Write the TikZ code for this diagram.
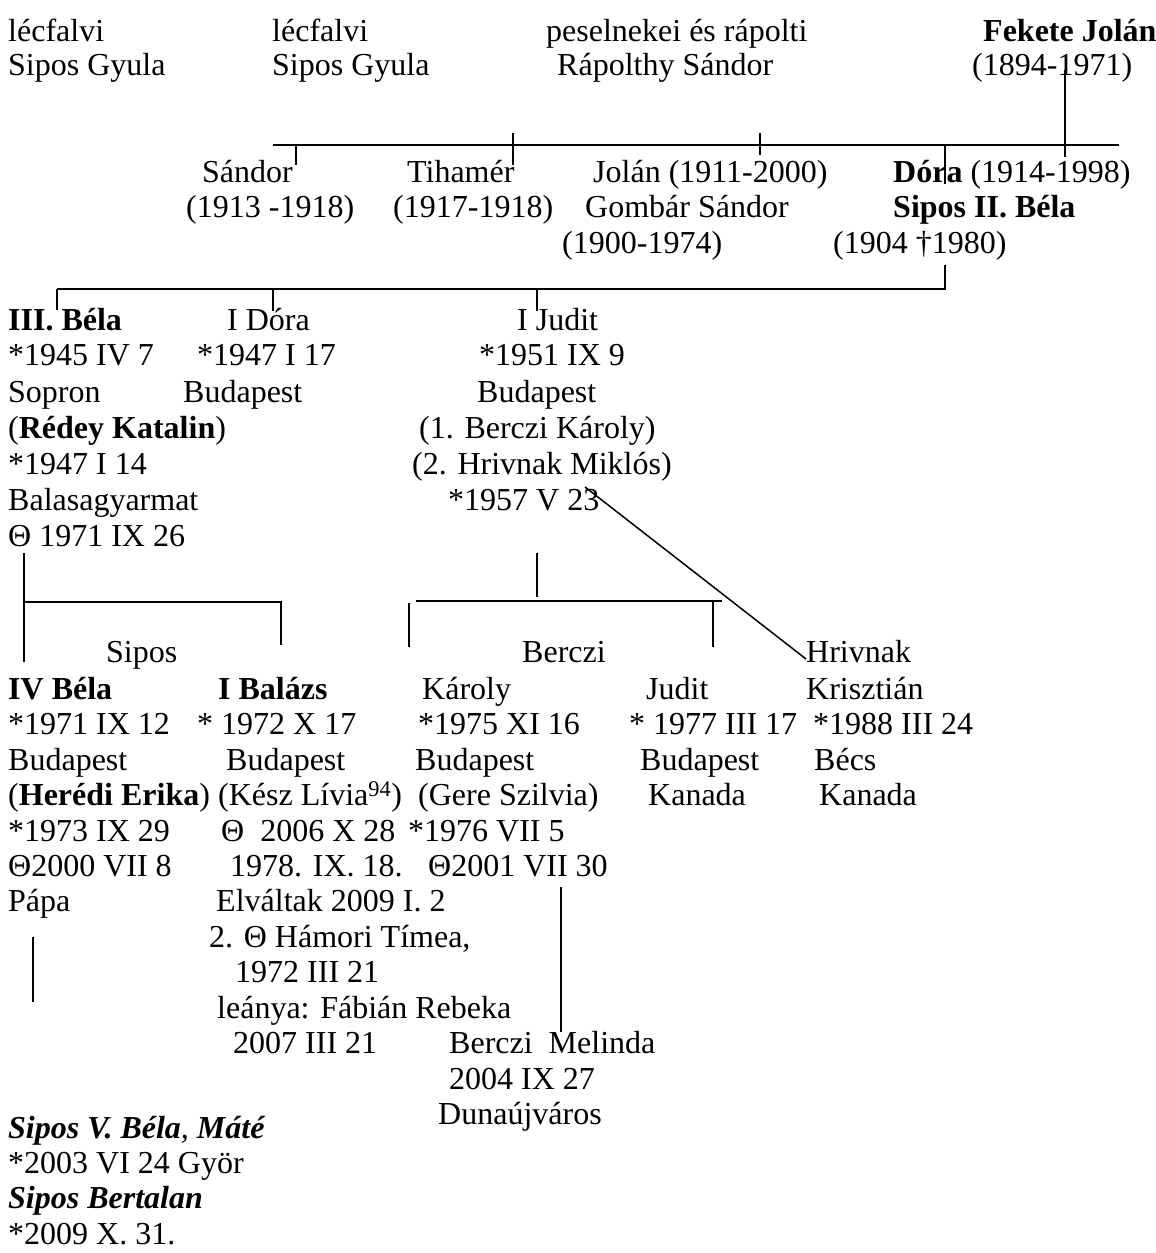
\documentclass[tikz,border=0pt]{standalone}
\usepackage{fontspec}
\setmainfont{Liberation Serif}
\begin{document}
\begin{tikzpicture}[x=1pt,y=-1pt,
  txt/.style={anchor=mid west,inner sep=0pt,yshift=-8pt,font=\fontsize{32}{36}\selectfont},
  ln/.style={line width=2pt},
  thin/.style={line width=1.5pt}]
\useasboundingbox (0,0) rectangle (1156,1253);
% top generation
\node[txt] (a1) at (8,31) {lécfalvi};
\node[txt] (a2) at (8,65) {Sipos Gyula};
\node[txt] (b1) at (272,31) {lécfalvi};
\node[txt] (b2) at (272,65) {Sipos Gyula};
\node[txt] (c1) at (546,31) {peselnekei és rápolti};
\node[txt] (c2) at (557,65) {Rápolthy Sándor};
\node[txt] (d1) at (983,31) {\bfseries Fekete Jolán};
\node[txt] (d2) at (972,65) {(1894-1971)};
% children
\node[txt] (s1) at (202,172) {Sándor};
\node[txt] (s2) at (186,207) {(1913 -1918)};
\node[txt] (t1) at (407,172) {Tihamér};
\node[txt] (t2) at (393,207) {(1917-1918)};
\node[txt] (j1) at (593,172) {Jolán (1911-2000)};
\node[txt] (j2) at (585,207) {Gombár Sándor};
\node[txt] (j3) at (562,243) {(1900-1974)};
\node[txt] (e1) at (893,172) {\textbf{Dóra} (1914-1998)};
\node[txt] (e2) at (893,207) {\bfseries Sipos II. Béla};
\node[txt] (e3) at (833,243) {(1904 †1980)};
% generation III
\node[txt] (f1) at (8,320) {\bfseries III. Béla};
\node[txt] (f2) at (8,355) {*1945 IV 7};
\node[txt] (f3) at (8,392) {Sopron};
\node[txt] (f4) at (8,428) {(\textbf{Rédey Katalin})};
\node[txt] (f5) at (8,464) {*1947 I 14};
\node[txt] (f6) at (8,500) {Balasagyarmat};
\node[txt] (f7) at (8,536) {Θ 1971 IX 26};
\node[txt] (g1) at (227,320) {I Dóra};
\node[txt] (g2) at (197,355) {*1947 I 17};
\node[txt] (g3) at (183,392) {Budapest};
\node[txt] (h1) at (517,320) {I Judit};
\node[txt] (h2) at (479,355) {*1951 IX 9};
\node[txt] (h3) at (477,392) {Budapest};
\node[txt] (h4) at (419,428) {(1. Berczi Károly)};
\node[txt] (h5) at (412,464) {(2. Hrivnak Miklós)};
\node[txt] (h6) at (448,500) {*1957 V 23};
% generation IV
\node[txt] (k0) at (106,652) {Sipos};
\node[txt] (k1) at (8,689) {\bfseries IV Béla};
\node[txt] (k2) at (8,724) {*1971 IX 12};
\node[txt] (k3) at (8,760) {Budapest};
\node[txt] (k4) at (8,795) {(\textbf{Herédi Erika})};
\node[txt] (k5) at (8,831) {*1973 IX 29};
\node[txt] (k6) at (8,866) {Θ2000 VII 8};
\node[txt] (k7) at (8,901) {Pápa};
\node[txt] (m1) at (218,689) {\bfseries I Balázs};
\node[txt] (m2) at (197,724) {* 1972 X 17};
\node[txt] (m3) at (226,760) {Budapest};
\node[txt] (m4) at (218,795) {(Kész Lívia\textsuperscript{94})};
\node[txt] (m5) at (221,831) {Θ\ \ 2006 X 28};
\node[txt] (m6) at (230,866) {1978. IX. 18.};
\node[txt] (m7) at (216,901) {Elváltak 2009 I. 2};
\node[txt] (m8) at (209,937) {2. Θ Hámori Tímea,};
\node[txt] (m9) at (235,972) {1972 III 21};
\node[txt] (m10) at (217,1008) {leánya: Fábián Rebeka};
\node[txt] (m11) at (233,1043) {2007 III 21};
\node[txt] (n0) at (522,652) {Berczi};
\node[txt] (n1) at (422,689) {Károly};
\node[txt] (n2) at (418,724) {*1975 XI 16};
\node[txt] (n3) at (415,760) {Budapest};
\node[txt] (n4) at (418,795) {(Gere Szilvia)};
\node[txt] (n5) at (408,831) {*1976 VII 5};
\node[txt] (n6) at (428,866) {Θ2001 VII 30};
\node[txt] (o1) at (449,1043) {Berczi\ \ Melinda};
\node[txt] (o2) at (449,1079) {2004 IX 27};
\node[txt] (o3) at (438,1114) {Dunaújváros};
\node[txt] (p1) at (646,689) {Judit};
\node[txt] (p2) at (629,724) {* 1977 III 17};
\node[txt] (p3) at (640,760) {Budapest};
\node[txt] (p4) at (648,795) {Kanada};
\node[txt] (q0) at (806,652) {Hrivnak};
\node[txt] (q1) at (806,689) {Krisztián};
\node[txt] (q2) at (813,724) {*1988 III 24};
\node[txt] (q3) at (814,760) {Bécs};
\node[txt] (q4) at (819,795) {Kanada};
% generation V
\node[txt] (r1) at (8,1128) {\itshape\textbf{Sipos V. Béla}, \textbf{Máté}};
\node[txt] (r2) at (8,1163) {*2003 VI 24 Györ};
\node[txt] (r3) at (8,1198) {\bfseries\itshape Sipos Bertalan};
\node[txt] (r4) at (8,1234) {*2009 X. 31.};
% connector points
\coordinate (L1a) at (273,145); \coordinate (L1b) at (1119,145);
\coordinate (ts1) at (296,145); \coordinate (ts2) at (296,165);
\coordinate (tt1) at (513,133); \coordinate (tt2) at (513,165);
\coordinate (tj1) at (760,133); \coordinate (tj2) at (760,155);
\coordinate (td1) at (945,145); \coordinate (td2) at (945,184);
\coordinate (tf1) at (1065,70); \coordinate (tf2) at (1065,157);
\coordinate (L2a) at (57,289); \coordinate (L2b) at (945,289);
\coordinate (tb0) at (945,265);
\coordinate (u1) at (57,310); \coordinate (u2a) at (273,289); \coordinate (u2) at (273,311);
\coordinate (u3a) at (537,289); \coordinate (u3) at (537,311);
\coordinate (v1) at (24,553); \coordinate (v2) at (24,662);
\coordinate (v3) at (24,602); \coordinate (v4) at (281,602); \coordinate (v5) at (281,645);
\coordinate (w1) at (537,553); \coordinate (w2) at (537,597);
\coordinate (w3) at (416,601); \coordinate (w4) at (722,601);
\coordinate (w5) at (409,603); \coordinate (w6) at (409,647);
\coordinate (w7) at (713,601); \coordinate (w8) at (713,647);
\coordinate (dg1) at (585,487); \coordinate (dg2) at (806,659);
\coordinate (x1) at (33,937); \coordinate (x2) at (33,1002);
\coordinate (y1) at (561,887); \coordinate (y2) at (561,1032);
% connectors
\draw[ln] (L1a) -- (L1b);
\draw[ln] (ts1) -- (ts2);
\draw[ln] (tt1) -- (tt2);
\draw[ln] (tj1) -- (tj2);
\draw[ln] (td1) -- (td2);
\draw[ln] (tf1) -- (tf2);
\draw[ln] (L2a) -- (L2b) -- (tb0);
\draw[ln] (L2a) -- (u1);
\draw[ln] (u2a) -- (u2);
\draw[ln] (u3a) -- (u3);
\draw[ln] (v1) -- (v2);
\draw[ln] (v3) -- (v4) -- (v5);
\draw[ln] (w1) -- (w2);
\draw[ln] (w3) -- (w4);
\draw[ln] (w5) -- (w6);
\draw[ln] (w7) -- (w8);
\draw[thin] (dg1) -- (dg2);
\draw[ln] (x1) -- (x2);
\draw[ln] (y1) -- (y2);
\end{tikzpicture}
\end{document}
